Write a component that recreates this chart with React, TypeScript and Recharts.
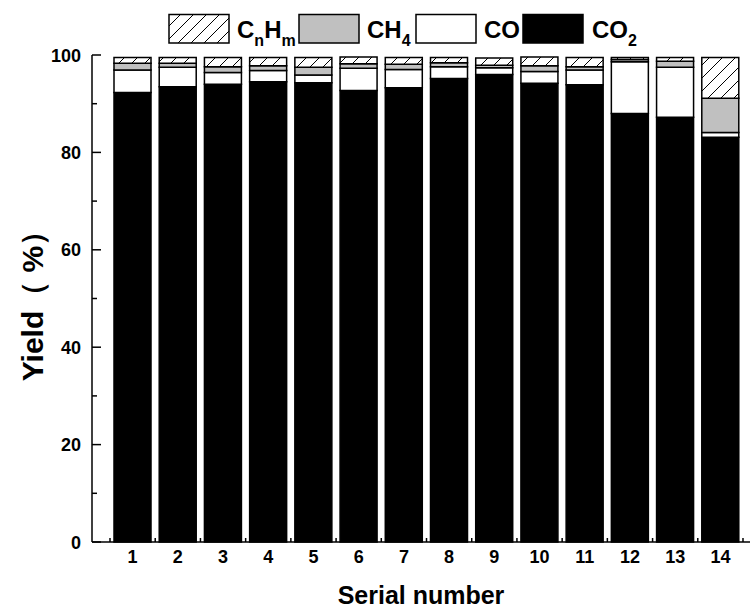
import React from 'react';
import { BarChart, Bar, XAxis, YAxis, Legend } from 'recharts';

const serials = ['1', '2', '3', '4', '5', '6', '7', '8', '9', '10', '11', '12', '13', '14'];
const co2 = [92.3, 93.5, 94.0, 94.5, 94.3, 92.7, 93.3, 95.2, 96.0, 94.2, 93.9, 88.0, 87.2, 83.1];
const co = [4.6, 4.0, 2.4, 2.3, 1.6, 4.6, 3.7, 2.4, 1.4, 2.4, 3.0, 10.6, 10.3, 1.0];
const ch4 = [1.4, 0.8, 1.2, 1.0, 1.6, 0.9, 1.1, 0.8, 0.5, 1.2, 0.7, 0.5, 1.2, 7.0];
const cnhm = [1.2, 1.2, 1.9, 1.7, 2.0, 1.4, 1.4, 1.1, 1.5, 1.8, 1.9, 0.4, 0.8, 8.4];
const yTicks = [0, 10, 20, 30, 40, 50, 60, 70, 80, 90, 100];
const yLabelTicks = [0, 20, 40, 60, 80, 100];

const data = serials.map((s, i) => ({
  serial: s,
  CO2: co2[i],
  CO: co[i],
  CH4: ch4[i],
  CnHm: cnhm[i],
}));

const FONT = "Arial, 'Liberation Sans', Helvetica, sans-serif";
const W = 751;
const H = 612;
const BAND = 45.2;

type Part = { t: string; sub?: boolean };
const legendItems: { key: string; fill: string; parts: Part[]; boxX: number; textX: number }[] = [
  { key: 'CnHm', fill: 'url(#hatchL)', parts: [{ t: 'C' }, { t: 'n', sub: true }, { t: 'H' }, { t: 'm', sub: true }], boxX: 169, textX: 237 },
  { key: 'CH4', fill: '#c0c0c0', parts: [{ t: 'CH' }, { t: '4', sub: true }], boxX: 299, textX: 367 },
  { key: 'CO', fill: '#ffffff', parts: [{ t: 'CO' }], boxX: 416, textX: 484 },
  { key: 'CO2', fill: '#000000', parts: [{ t: 'CO' }, { t: '2', sub: true }], boxX: 523, textX: 592 },
];

const HatchDef = ({ id }: { id: string }) => (
  <pattern id={id} patternUnits="userSpaceOnUse" width={13} height={13}>
    <rect x={0} y={0} width={13} height={13} fill="#fff" />
    <path d="M0,13 L13,0 M-3,3 L3,-3 M10,16 L16,10" stroke="#000" strokeWidth={1} />
  </pattern>
);

const LegendContent = () => (
  <svg width={W} height={50} style={{ position: 'absolute', left: 0, top: 0, overflow: 'visible' }}>
    <defs>
      <HatchDef id="hatchL" />
    </defs>
    {legendItems.map((it) => {
      let prevSub = false;
      return (
        <g key={it.key}>
          <rect x={it.boxX} y={14.5} width={60} height={28.5} fill={it.fill} stroke="#000" strokeWidth={1.5} />
          <text x={it.textX} y={38} fontFamily={FONT} fontWeight="bold" fontSize={24} fill="#000">
            {it.parts.map((p, j) => {
              let dy = 0;
              if (p.sub && !prevSub) dy = 8;
              if (!p.sub && prevSub) dy = -8;
              prevSub = !!p.sub;
              return (
                <tspan key={j} dy={dy} fontSize={p.sub ? 16 : 24}>
                  {p.t}
                </tspan>
              );
            })}
          </text>
        </g>
      );
    })}
  </svg>
);

const XTick = (props: any) => {
  const { x, y, payload, index } = props;
  const half = BAND / 2;
  return (
    <g>
      <line x1={x - half} y1={y} x2={x - half} y2={y - 4} stroke="#000" strokeWidth={1.5} />
      {index === serials.length - 1 && (
        <line x1={x + half} y1={y} x2={x + half} y2={y - 4} stroke="#000" strokeWidth={1.5} />
      )}
      <text x={x} y={y + 21} textAnchor="middle" fontFamily={FONT} fontWeight="bold" fontSize={18} fill="#000">
        {payload.value}
      </text>
    </g>
  );
};

const YTick = (props: any) => {
  const { x, y, payload } = props;
  const major = yLabelTicks.includes(payload.value);
  return (
    <g>
      <line x1={x} y1={y} x2={x + (major ? 9 : 5)} y2={y} stroke="#000" strokeWidth={1.5} />
      {major && (
        <text x={x - 11} y={y + 6.5} textAnchor="end" fontFamily={FONT} fontWeight="bold" fontSize={18} fill="#000">
          {payload.value}
        </text>
      )}
    </g>
  );
};

const YTitle = (props: any) => {
  const vb = props.viewBox || { x: 0, y: 55, width: 92, height: 487 };
  const cx = vb.x + 32;
  const cy = vb.y + vb.height / 2;
  return (
    <text
      x={cx}
      y={cy}
      transform={`rotate(-90, ${cx}, ${cy})`}
      textAnchor="middle"
      dominantBaseline="central"
      fontFamily={FONT}
      fontWeight="bold"
      fontSize={30}
      fill="#000"
    >
      Yield（ %）
    </text>
  );
};

const XTitle = (props: any) => {
  const vb = props.viewBox || { x: 92, y: 542, width: 658, height: 70 };
  return (
    <text
      x={vb.x + vb.width / 2}
      y={vb.y + 62}
      textAnchor="middle"
      fontFamily={FONT}
      fontWeight="bold"
      fontSize={25}
      fill="#000"
    >
      Serial number
    </text>
  );
};

export default function App() {
  return (
    <div style={{ position: 'absolute', left: 0, top: 0, width: W, height: H, background: '#fff' }}>
      <BarChart width={W} height={H} data={data} margin={{ top: 55, right: 1, left: 0, bottom: 0 }} barSize={37}>
        <defs>
          <HatchDef id="hatch" />
        </defs>
        <Legend
          verticalAlign="top"
          content={() => <LegendContent />}
          wrapperStyle={{ position: 'absolute', left: 0, top: 0, width: W, height: 0, overflow: 'visible' }}
        />
        <XAxis
          dataKey="serial"
          height={70}
          padding={{ left: 18, right: 7 }}
          interval={0}
          tickLine={false}
          tickSize={0}
          tickMargin={0}
          axisLine={{ stroke: '#000', strokeWidth: 1.5 }}
          tick={<XTick />}
          label={<XTitle />}
        />
        <YAxis
          width={92}
          domain={[0, 100]}
          ticks={yTicks}
          interval={0}
          tickLine={false}
          tickSize={0}
          tickMargin={0}
          axisLine={{ stroke: '#000', strokeWidth: 1.5 }}
          tick={<YTick />}
          label={<YTitle />}
        />
        <Bar dataKey="CO2" stackId="s" fill="#000" stroke="#000" strokeWidth={1.5} isAnimationActive={false} />
        <Bar dataKey="CO" stackId="s" fill="#fff" stroke="#000" strokeWidth={1.5} isAnimationActive={false} />
        <Bar dataKey="CH4" stackId="s" fill="#c0c0c0" stroke="#000" strokeWidth={1.5} isAnimationActive={false} />
        <Bar dataKey="CnHm" stackId="s" fill="url(#hatch)" stroke="#000" strokeWidth={1.5} isAnimationActive={false} />
      </BarChart>
    </div>
  );
}
